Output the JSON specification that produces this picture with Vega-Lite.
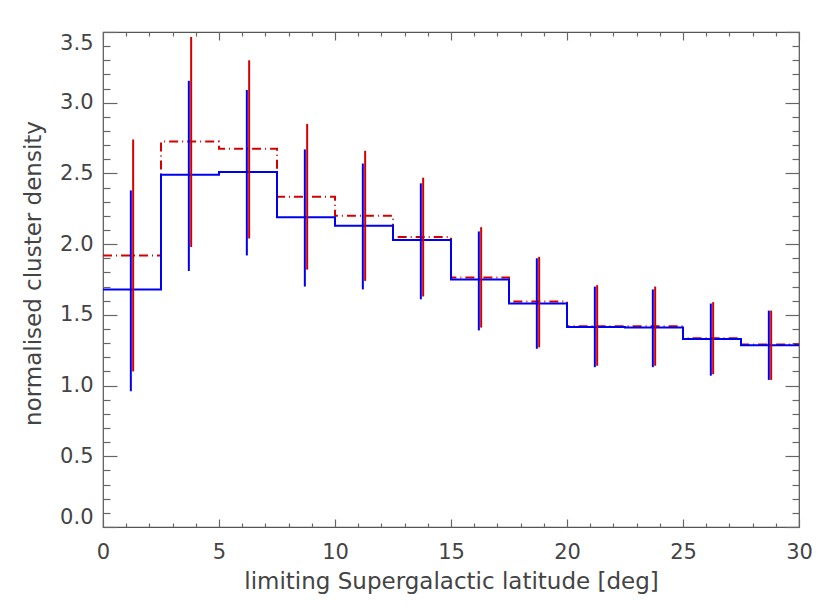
{
  "$schema": "https://vega.github.io/schema/vega-lite/v6.json",
  "width": 696,
  "height": 495,
  "autosize": "none",
  "padding": {"left": 103, "top": 32, "right": 31, "bottom": 83},
  "background": "white",
  "config": {
    "view": {"stroke": "#555", "strokeWidth": 1.2},
    "axis": {
      "domain": false,
      "grid": false,
      "labelFont": "DejaVu Sans",
      "titleFont": "DejaVu Sans",
      "labelFontSize": 21,
      "titleFontSize": 23,
      "labelColor": "#444",
      "titleColor": "#444",
      "titleFontWeight": "normal",
      "tickColor": "#666",
      "tickWidth": 1.2
    }
  },
  "data": {
    "values": [
      {"series": "b", "lo": 0, "x": 1.2, "value": 1.68, "errLo": 0.96, "errHi": 2.38},
      {"series": "b", "lo": 2.5, "x": 3.7, "value": 2.49, "errLo": 1.81, "errHi": 3.155},
      {"series": "b", "lo": 5, "x": 6.2, "value": 2.51, "errLo": 1.92, "errHi": 3.09},
      {"series": "b", "lo": 7.5, "x": 8.7, "value": 2.19, "errLo": 1.7, "errHi": 2.67},
      {"series": "b", "lo": 10, "x": 11.2, "value": 2.13, "errLo": 1.68, "errHi": 2.57},
      {"series": "b", "lo": 12.5, "x": 13.7, "value": 2.03, "errLo": 1.61, "errHi": 2.43},
      {"series": "b", "lo": 15, "x": 16.2, "value": 1.75, "errLo": 1.39, "errHi": 2.09},
      {"series": "b", "lo": 17.5, "x": 18.7, "value": 1.58, "errLo": 1.26, "errHi": 1.9},
      {"series": "b", "lo": 20, "x": 21.2, "value": 1.415, "errLo": 1.13, "errHi": 1.7},
      {"series": "b", "lo": 22.5, "x": 23.7, "value": 1.41, "errLo": 1.13, "errHi": 1.68},
      {"series": "b", "lo": 25, "x": 26.2, "value": 1.33, "errLo": 1.07, "errHi": 1.58},
      {"series": "b", "lo": 27.5, "x": 28.7, "value": 1.285, "errLo": 1.04, "errHi": 1.53},
      {"series": "b", "lo": 30, "x": null, "value": 1.285, "errLo": null, "errHi": null},
      {"series": "r", "lo": 0, "x": 1.3, "value": 1.92, "errLo": 1.1, "errHi": 2.74},
      {"series": "r", "lo": 2.5, "x": 3.8, "value": 2.725, "errLo": 1.98, "errHi": 3.465},
      {"series": "r", "lo": 5, "x": 6.3, "value": 2.675, "errLo": 2.04, "errHi": 3.3},
      {"series": "r", "lo": 7.5, "x": 8.8, "value": 2.335, "errLo": 1.82, "errHi": 2.85},
      {"series": "r", "lo": 10, "x": 11.3, "value": 2.2, "errLo": 1.74, "errHi": 2.66},
      {"series": "r", "lo": 12.5, "x": 13.8, "value": 2.05, "errLo": 1.63, "errHi": 2.47},
      {"series": "r", "lo": 15, "x": 16.3, "value": 1.765, "errLo": 1.41, "errHi": 2.12},
      {"series": "r", "lo": 17.5, "x": 18.8, "value": 1.595, "errLo": 1.27, "errHi": 1.91},
      {"series": "r", "lo": 20, "x": 21.3, "value": 1.42, "errLo": 1.14, "errHi": 1.71},
      {"series": "r", "lo": 22.5, "x": 23.8, "value": 1.42, "errLo": 1.14, "errHi": 1.7},
      {"series": "r", "lo": 25, "x": 26.3, "value": 1.335, "errLo": 1.08, "errHi": 1.59},
      {"series": "r", "lo": 27.5, "x": 28.8, "value": 1.29, "errLo": 1.04, "errHi": 1.53},
      {"series": "r", "lo": 30, "x": null, "value": 1.29, "errLo": null, "errHi": null}
    ]
  },
  "resolve": {"axis": {"x": "independent", "y": "independent"}},
  "layer": [
    {
      "transform": [{"filter": "datum.series === 'r'"}],
      "mark": {"type": "line", "interpolate": "step-after", "color": "#d40000", "strokeWidth": 2, "strokeDash": [9, 4, 1, 4]},
      "encoding": {
        "x": {"field": "lo", "type": "quantitative", "scale": {"domain": [0, 30], "nice": false},
          "axis": {"orient": "top", "values": [0, 5, 10, 15, 20, 25, 30], "labels": false, "title": null, "tickSize": -8}},
        "y": {"field": "value", "type": "quantitative", "scale": {"domain": [0, 3.5], "nice": false, "zero": true},
          "axis": {"orient": "right", "values": [0, 0.5, 1, 1.5, 2, 2.5, 3, 3.5], "labels": false, "title": null, "tickSize": -14}}
      }
    },
    {
      "transform": [{"filter": "datum.series === 'b'"}],
      "mark": {"type": "line", "interpolate": "step-after", "color": "#0000f0", "strokeWidth": 2},
      "encoding": {
        "x": {"field": "lo", "type": "quantitative",
          "axis": {"orient": "bottom", "values": [0, 5, 10, 15, 20, 25, 30], "tickSize": -8, "labelPadding": 22, "labelBaseline": "top", "labelFlush": false,
            "title": "limiting Supergalactic latitude [deg]", "titleY": 61, "titleBaseline": "alphabetic"}},
        "y": {"field": "value", "type": "quantitative",
          "axis": {"orient": "left", "values": [0, 0.5, 1, 1.5, 2, 2.5, 3, 3.5], "tickSize": -14, "labelPadding": 24, "labelFlush": true,
            "format": ".1f", "title": "normalised cluster density", "titleX": -70, "titleY": 241, "titleBaseline": "middle", "titleAngle": -90}}
      }
    },
    {
      "transform": [{"filter": "datum.series === 'b' && datum.x != null"}],
      "mark": {"type": "rule", "color": "#0000f0", "strokeWidth": 2},
      "encoding": {
        "x": {"field": "x", "type": "quantitative",
          "axis": {"orient": "bottom", "values": [1, 2, 3, 4, 6, 7, 8, 9, 11, 12, 13, 14, 16, 17, 18, 19, 21, 22, 23, 24, 26, 27, 28, 29], "labels": false, "title": null, "tickSize": -4}},
        "y": {"field": "errLo", "type": "quantitative",
          "axis": {"orient": "left", "values": [0.1, 0.2, 0.3, 0.4, 0.6, 0.7, 0.8, 0.9, 1.1, 1.2, 1.3, 1.4, 1.6, 1.7, 1.8, 1.9, 2.1, 2.2, 2.3, 2.4, 2.6, 2.7, 2.8, 2.9, 3.1, 3.2, 3.3, 3.4], "labels": false, "title": null, "tickSize": -7}},
        "y2": {"field": "errHi"}
      }
    },
    {
      "transform": [{"filter": "datum.series === 'r' && datum.x != null"}],
      "mark": {"type": "rule", "color": "#d40000", "strokeWidth": 2},
      "encoding": {
        "x": {"field": "x", "type": "quantitative",
          "axis": {"orient": "top", "values": [1, 2, 3, 4, 6, 7, 8, 9, 11, 12, 13, 14, 16, 17, 18, 19, 21, 22, 23, 24, 26, 27, 28, 29], "labels": false, "title": null, "tickSize": -4}},
        "y": {"field": "errLo", "type": "quantitative",
          "axis": {"orient": "right", "values": [0.1, 0.2, 0.3, 0.4, 0.6, 0.7, 0.8, 0.9, 1.1, 1.2, 1.3, 1.4, 1.6, 1.7, 1.8, 1.9, 2.1, 2.2, 2.3, 2.4, 2.6, 2.7, 2.8, 2.9, 3.1, 3.2, 3.3, 3.4], "labels": false, "title": null, "tickSize": -7}},
        "y2": {"field": "errHi"}
      }
    }
  ]
}
